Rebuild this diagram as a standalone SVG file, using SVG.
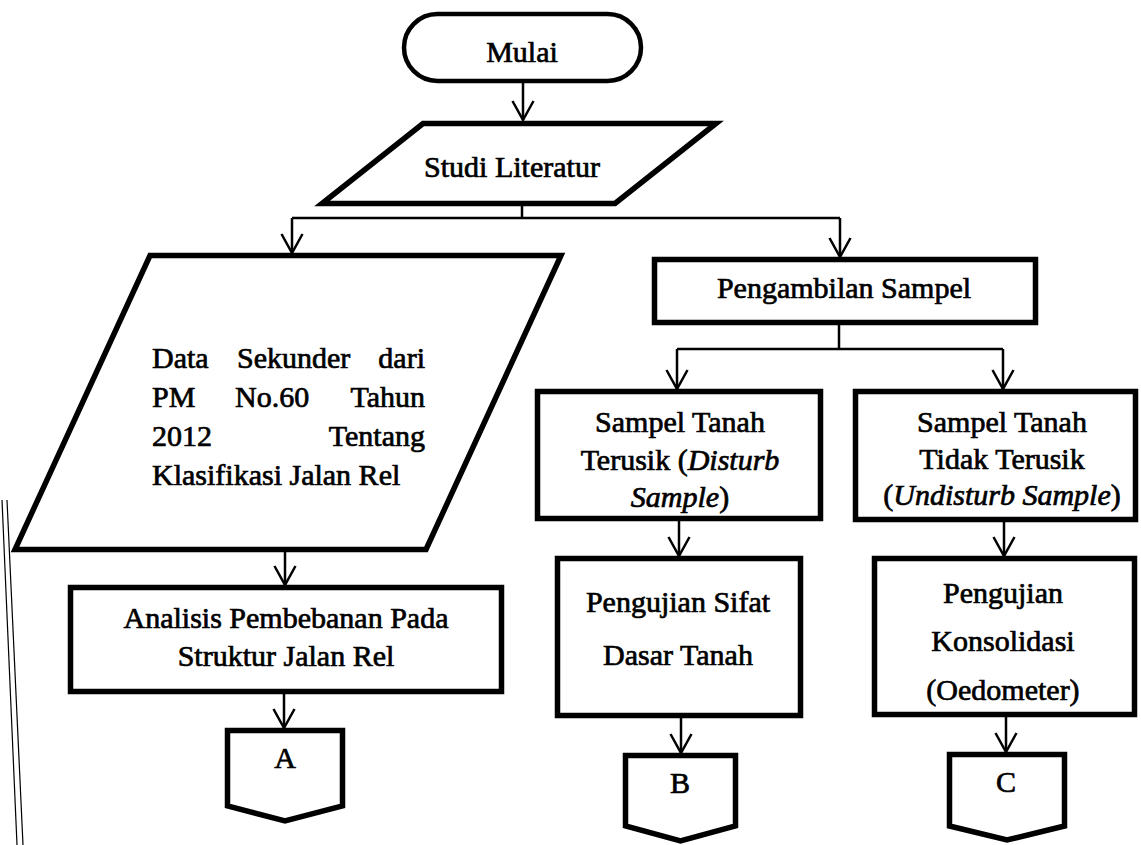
<svg xmlns="http://www.w3.org/2000/svg" width="1141" height="845" viewBox="0 0 1141 845">
<style>
.shape{fill:#fff;stroke:#000;stroke-width:5.5;stroke-linejoin:miter}
.term{fill:#fff;stroke:#000;stroke-width:4.5}
.con{fill:none;stroke:#000;stroke-width:2.5}
.edge{fill:none;stroke:#000;stroke-width:1.2}
text{font-family:"Liberation Serif","Times New Roman",serif;font-size:30px;fill:#000;stroke:#000;stroke-width:0.7}
.c{text-anchor:middle}
.e{text-anchor:end}
.i{font-style:italic}
</style>
<defs>
<marker id="arr" markerUnits="userSpaceOnUse" viewBox="0 0 22 24" refX="20" refY="12" markerWidth="22" markerHeight="24" orient="auto">
<path d="M1,1.5 L20,12 L1,22.5" fill="none" stroke="#000" stroke-width="2.5"/>
</marker>
</defs>
<rect width="1141" height="845" fill="#fff"/>
<g id="page-edge">
<line class="edge" x1="2" y1="500" x2="17" y2="845"/>
<line class="edge" x1="7" y1="500" x2="23" y2="845"/>
</g>
<g id="connectors">
<path class="con" d="M523,83 V120" marker-end="url(#arr)"/>
<path class="con" d="M522,206 V218"/>
<path class="con" d="M292,218 H840"/>
<path class="con" d="M292,218 V253" marker-end="url(#arr)"/>
<path class="con" d="M840,218 V257" marker-end="url(#arr)"/>
<path class="con" d="M839,325 V349"/>
<path class="con" d="M677,349 H1003"/>
<path class="con" d="M677,349 V389" marker-end="url(#arr)"/>
<path class="con" d="M1003,349 V389" marker-end="url(#arr)"/>
<path class="con" d="M285,552 V585" marker-end="url(#arr)"/>
<path class="con" d="M284,694 V728" marker-end="url(#arr)"/>
<path class="con" d="M679,521 V556" marker-end="url(#arr)"/>
<path class="con" d="M1004,522 V556" marker-end="url(#arr)"/>
<path class="con" d="M681,718 V753" marker-end="url(#arr)"/>
<path class="con" d="M1006,717 V752" marker-end="url(#arr)"/>
</g>
<g id="mulai">
<rect class="term" x="404" y="14" width="237" height="67" rx="33.5"/>
<text class="c" x="522" y="62">Mulai</text>
</g>
<g id="studi-literatur">
<polygon class="shape" points="423,123.5 716,123.5 615,203.5 322,203.5"/>
<text class="c" x="512" y="177">Studi Literatur</text>
</g>
<g id="data-sekunder">
<polygon class="shape" points="150,255.5 561,255.5 426,549.5 15,549.5"/>
<text x="152" y="368">Data</text>
<text x="237" y="368">Sekunder</text>
<text class="e" x="425" y="368">dari</text>
<text x="152" y="407">PM</text>
<text x="235" y="407">No.60</text>
<text class="e" x="425" y="407">Tahun</text>
<text x="152" y="446">2012</text>
<text class="e" x="425" y="446">Tentang</text>
<text x="152" y="485">Klasifikasi Jalan Rel</text>
</g>
<g id="pengambilan-sampel">
<rect class="shape" x="654.5" y="259.5" width="381" height="63"/>
<text class="c" x="844" y="298">Pengambilan Sampel</text>
</g>
<g id="analisis">
<rect class="shape" x="70.5" y="587.5" width="431" height="104"/>
<text class="c" x="286" y="628">Analisis Pembebanan Pada</text>
<text class="c" x="286" y="666">Struktur Jalan Rel</text>
</g>
<g id="sampel-terusik">
<rect class="shape" x="537.5" y="391.5" width="283" height="127"/>
<text class="c" x="680" y="432">Sampel Tanah</text>
<text class="c" x="680" y="470">Terusik (<tspan class="i">Disturb</tspan></text>
<text class="c" x="680" y="507"><tspan class="i">Sample</tspan>)</text>
</g>
<g id="sampel-tidak-terusik">
<rect class="shape" x="855.5" y="391.5" width="280" height="128"/>
<text class="c" x="1002" y="432">Sampel Tanah</text>
<text class="c" x="1002" y="469">Tidak Terusik</text>
<text class="c" x="1002" y="505">(<tspan class="i">Undisturb Sample</tspan>)</text>
</g>
<g id="pengujian-sifat">
<rect class="shape" x="557.5" y="558.5" width="243" height="157"/>
<text class="c" x="678" y="612">Pengujian Sifat</text>
<text class="c" x="678" y="665">Dasar Tanah</text>
</g>
<g id="pengujian-konsolidasi">
<rect class="shape" x="874.5" y="558.5" width="260" height="156"/>
<text class="c" x="1003" y="603">Pengujian</text>
<text class="c" x="1003" y="651">Konsolidasi</text>
<text class="c" x="1003" y="700">(Oedometer)</text>
</g>
<g id="connector-a">
<path class="shape" d="M227.5,730.5 H342.5 V806 L285,821 L227.5,806 Z"/>
<text class="c" x="285" y="768">A</text>
</g>
<g id="connector-b">
<path class="shape" d="M625.5,755.5 H735.5 V826 L680.5,841 L625.5,826 Z"/>
<text class="c" x="680" y="793">B</text>
</g>
<g id="connector-c">
<path class="shape" d="M949.5,754.5 H1064.5 V826 L1007,840 L949.5,826 Z"/>
<text class="c" x="1006" y="792">C</text>
</g>
</svg>
